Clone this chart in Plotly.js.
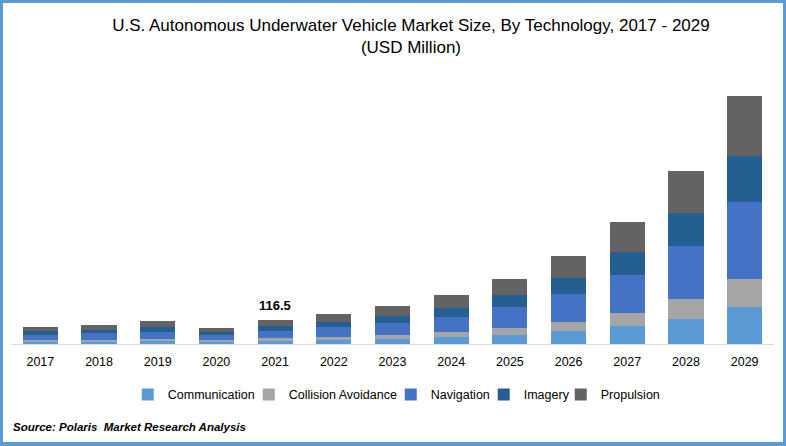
<!DOCTYPE html>
<html>
<head>
<meta charset="utf-8">
<script src="https://cdn.plot.ly/plotly-3.0.1.min.js"></script>
<style>
  html, body { margin: 0; padding: 0; background: #fff; }
  #frame { width: 786px; height: 446px; box-sizing: border-box; border: 3px solid #5B9BD5; border-bottom-width: 4px; background: #fff; }
  #chart { width: 780px; height: 439px; }
</style>
</head>
<body>
<div id="frame"><div id="chart"></div></div>
<script>
const years = ['2017','2018','2019','2020','2021','2022','2023','2024','2025','2026','2027','2028','2029'];
const communication      = [9, 10, 14, 10, 14.5, 19, 24, 34, 44, 63, 87, 121, 180];
const collisionAvoidance = [10, 10, 10, 10, 14.5, 15, 19, 24, 34, 44, 63, 97, 136];
const navigation         = [24, 35, 34, 24, 34, 49, 58, 73, 102, 136, 184, 257, 374];
const imagery            = [19, 15, 24, 15, 24.5, 24, 34, 44, 58, 78, 112, 160, 223];
const propulsion         = [19, 23, 29, 19, 29, 39, 49, 63, 78, 107, 146, 204, 291];
const seriesNames = ['Communication', 'Collision Avoidance', 'Navigation', 'Imagery', 'Propulsion'];
const seriesColors = ['#5B9BD5', '#A5A5A5', '#4472C4', '#255E91', '#636363'];
const legendWidths = [76, 97, 48, 32, 60];
const labelYear = '2021';
const labelText = '116.5';

const seriesData = [communication, collisionAvoidance, navigation, imagery, propulsion];
const traces = seriesData.map((vals, i) => ({
  type: 'bar', x: years, y: vals, name: seriesNames[i],
  marker: { color: seriesColors[i], line: { width: 0 } },
  legendwidth: legendWidths[i],
  hoverinfo: 'x+y+name'
}));

const li = years.indexOf(labelYear);
const labelTotal = seriesData.reduce((s, arr) => s + arr[li], 0);

const layout = {
  width: 780, height: 439,
  margin: { l: 7.6, r: 9.3, t: 77, b: 98 },
  paper_bgcolor: '#ffffff', plot_bgcolor: '#ffffff',
  barmode: 'stack', bargap: 0.4,
  font: { family: 'Liberation Sans, Arial, sans-serif', color: '#000' },
  title: {
    text: 'U.S. Autonomous Underwater Vehicle Market Size, By Technology, 2017 - 2029<br>(USD Million)',
    font: { size: 17, color: '#000', family: 'Liberation Sans, Arial, sans-serif' },
    x: 0.523, xref: 'container', xanchor: 'center',
    y: 1 - 28/439, yref: 'container', yanchor: 'top'
  },
  xaxis: {
    type: 'category', range: [-0.5, years.length - 0.5], autorange: false,
    showgrid: false, zeroline: false,
    showline: true, linecolor: '#d9d9d9', linewidth: 1,
    ticks: '', ticklabelstandoff: 6, tickfont: { size: 12.5, color: '#000' },
    fixedrange: true
  },
  yaxis: {
    range: [0, 1280], autorange: false, visible: false, showgrid: false, zeroline: false, fixedrange: true
  },
  showlegend: true,
  legend: {
    orientation: 'h', x: 0.153, xanchor: 'left', y: -0.193, yanchor: 'middle',
    font: { size: 12.5, color: '#000' }, traceorder: 'normal', itemwidth: 30
  },
  annotations: [
    { x: li, y: labelTotal, xref: 'x', yref: 'y', text: '<b>' + labelText + '</b>',
      showarrow: false, yanchor: 'bottom', yshift: 5, font: { size: 13, color: '#000' } },
    { x: 0, y: -0.314, xref: 'paper', yref: 'paper', xanchor: 'left', yanchor: 'middle',
      text: '<b><i>Source: Polaris\u00a0 Market Research Analysis</i></b>', showarrow: false,
      font: { size: 11.5, color: '#000' } }
  ]
};

Plotly.newPlot('chart', traces, layout, { displayModeBar: false, staticPlot: true });
</script>
</body>
</html>
